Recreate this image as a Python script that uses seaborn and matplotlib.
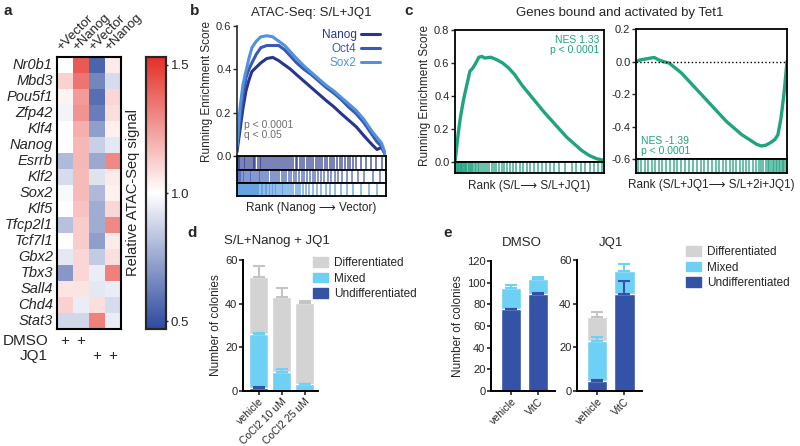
import numpy as np
import pandas as pd
import matplotlib
matplotlib.use("Agg")
import matplotlib.pyplot as plt
import seaborn as sns
from matplotlib.colors import LinearSegmentedColormap
from matplotlib.patches import Patch

# ---- panel a: heatmap ----
genes = ["Nr0b1", "Mbd3", "Pou5f1", "Zfp42", "Klf4", "Nanog", "Esrrb", "Klf2", "Sox2",
         "Klf5", "Tfcp2l1", "Tcf7l1", "Gbx2", "Tbx3", "Sall4", "Chd4", "Stat3"]
col_labels = ["+Vector", "+Nanog", "+Vector", "+Nanog"]
dmso_vector = [1.0, 1.12, 1.03, 0.97, 1.0, 1.0, 0.8, 0.9, 0.98, 1.0, 0.82, 1.0, 0.93, 0.7, 1.07, 1.12, 0.88]
dmso_nanog = [1.42, 1.35, 1.25, 1.27, 1.2, 1.18, 1.18, 1.17, 1.17, 1.15, 1.13, 1.13, 1.1, 1.1, 1.07, 0.95, 0.88]
jq1_vector = [0.55, 0.65, 0.58, 0.62, 0.72, 0.86, 0.75, 0.92, 0.8, 0.76, 0.76, 0.72, 0.85, 0.95, 0.93, 1.08, 1.32]
jq1_nanog = [1.05, 0.9, 1.1, 1.08, 1.04, 0.93, 1.3, 1.05, 1.04, 1.1, 1.3, 1.05, 1.08, 1.32, 0.95, 0.9, 0.95]

# ---- panel b: GSEA curves ----
b_rank = [0, 2, 4, 6, 8, 10, 13, 16, 20, 24, 28, 32, 36, 40, 45, 50, 55, 60, 65, 70, 75, 80, 85, 88, 91, 94, 97, 100]
b_nanog = [0.02, 0.12, 0.22, 0.30, 0.35, 0.39, 0.41, 0.43, 0.45, 0.455, 0.44, 0.42, 0.40, 0.375, 0.345, 0.315,
           0.285, 0.255, 0.227, 0.195, 0.165, 0.135, 0.095, 0.072, 0.05, 0.03, 0.04, 0.0]
b_oct4 = [0.03, 0.17, 0.28, 0.36, 0.40, 0.43, 0.47, 0.50, 0.51, 0.51, 0.51, 0.49, 0.46, 0.43, 0.40, 0.375,
          0.345, 0.315, 0.29, 0.26, 0.225, 0.195, 0.155, 0.125, 0.095, 0.065, 0.045, 0.0]
b_sox2 = [0.05, 0.22, 0.33, 0.39, 0.45, 0.50, 0.53, 0.55, 0.555, 0.55, 0.53, 0.51, 0.48, 0.45, 0.415, 0.385,
          0.355, 0.325, 0.30, 0.27, 0.24, 0.21, 0.17, 0.14, 0.11, 0.085, 0.06, 0.0]
b_nanog_hits = [0.5, 1.5, 2.3, 3.4, 4.6, 5.5, 6.8, 8, 9.1, 10.5, 11.6, 12.4, 13.8, 15.2, 16.1, 17.5, 19, 20.2,
                21.7, 23, 24.4, 25.3, 26.8, 28.1, 29.6, 31, 32.2, 33.5, 35, 36.3, 37.9, 39.4, 40.6, 42, 43.7,
                45.1, 46.8, 48, 49.5, 51.2, 52.9, 54.1, 55.8, 57.3, 59, 60.6, 62.2, 63.9, 65.3, 67, 68.8, 70.4,
                72.5, 74.3, 76.1, 78, 80.2, 83, 86.5, 90, 93.5, 97]
b_oct4_hits = [0.4, 1.3, 2.1, 3, 4.1, 5, 6.2, 7.3, 8.5, 9.6, 10.8, 12, 13.1, 14.5, 15.6, 17, 18.4, 19.7, 21,
               22.6, 24, 25.5, 27, 28.4, 30.1, 31.6, 33.2, 34.8, 36.5, 38.1, 39.9, 41.6, 43.4, 45.2, 47,
               48.9, 50.7, 52.6, 54.5, 56.6, 58.7, 61, 63.2, 65.5, 68, 70.6, 73.5, 77, 81, 85.5, 91, 96]
b_sox2_hits = [0.3, 0.9, 1.5, 2.1, 2.7, 3.3, 4, 4.6, 5.2, 5.9, 6.5, 7.2, 7.8, 8.5, 9.2, 9.9, 10.6, 11.3, 12,
               12.8, 13.6, 14.3, 15.1, 15.9, 16.8, 17.6, 18.5, 19.4, 20.3, 21.2, 22.2, 23.2, 24.2, 25.3,
               26.4, 27.5, 28.7, 29.9, 31.1, 32.4, 33.7, 35, 36.4, 37.8, 39.3, 40.8, 42.4, 44, 46.2, 48.5,
               51, 53.8, 56.5, 59.5, 62.5, 66, 69.5, 73.5, 78, 83, 88.5, 94]

# ---- panel c: Tet1 GSEA ----
c1_rank = [0, 1, 2, 3, 4, 5, 6, 8, 10, 12, 14, 16, 18, 20, 24, 28, 32, 36, 40, 45, 50, 55, 60, 65, 70, 75,
           80, 85, 90, 95, 100]
c1_es = [0.0, 0.08, 0.16, 0.23, 0.29, 0.34, 0.39, 0.47, 0.55, 0.57, 0.60, 0.635, 0.64, 0.63, 0.635, 0.62,
         0.60, 0.57, 0.53, 0.465, 0.41, 0.355, 0.30, 0.25, 0.20, 0.15, 0.11, 0.07, 0.04, 0.02, 0.01]
c2_rank = [0, 3, 6, 9, 12, 15, 18, 22, 26, 30, 35, 40, 45, 50, 55, 60, 65, 70, 75, 80, 83, 86, 89, 92, 94,
           96, 98, 100]
c2_es = [0.0, 0.01, 0.015, 0.02, 0.025, 0.01, 0.0, -0.01, -0.04, -0.07, -0.12, -0.17, -0.22, -0.27, -0.32,
         -0.37, -0.41, -0.45, -0.48, -0.51, -0.52, -0.515, -0.50, -0.48, -0.45, -0.35, -0.2, 0.0]
c1_hits = [0.3, 0.8, 1.3, 1.8, 2.3, 2.8, 3.3, 3.8, 4.3, 4.8, 5.3, 5.9, 6.5, 7.1, 7.7, 8.4, 9.1, 9.8, 10.6,
           11.4, 12.3, 13.2, 14.2, 15.3, 16.4, 17.6, 18.9, 20.3, 21.6, 23, 24.5, 26.1, 27.8, 29.5, 31.3,
           33.1, 35, 37, 39.1, 41.2, 43.4, 45.7, 48, 50.4, 52.9, 55.5, 58.2, 61, 63.8, 66.7, 69.8, 73.5,
           78.5, 81.5, 84.5, 87.4, 90.3, 93.2, 96.1, 98.8]
c2_hits = [1.2, 3.5, 5.8, 8.2, 10.5, 12.9, 15.4, 17.2, 19.8, 22.3, 24.9, 27.4, 30, 32.6, 35.1, 37.7, 40.2,
           42.8, 45.3, 47.9, 50.4, 53, 55.2, 57.5, 59.8, 62, 64.3, 66.5, 68.7, 70.9, 73, 75.1, 77.2, 79.3,
           81.2, 82.9, 84.4, 85.8, 87.1, 88.3, 89.5, 90.6, 91.7, 92.7, 93.7, 94.6, 95.5, 96.4, 97.3, 98.2,
           99.1]

# ---- panel d / e: colony counts ----
d_cats = ["vehicle", "CoCl2 10 uM", "CoCl2 25 uM"]
d_undiff = [1.2, 0.0, 0.0]
d_mixed = [24.7, 8.7, 3.0]
d_diff = [26.2, 34.2, 37.1]
d_undiff_err = [0.5, 0.0, 0.0]
d_mixed_err = [0.5, 1.4, 0.3]
d_diff_err = [5.3, 4.1, 1.0]

e_cats = ["vehicle", "VitC"]
dmso_undiff = [75.4, 89.2]
dmso_mixed = [19.3, 14.4]
dmso_diff = [0.0, 0.0]
dmso_undiff_err = [0.5, 1.5]
dmso_mixed_err = [2.8, 1.2]
dmso_diff_err = [0.0, 0.0]
jq1_undiff = [4.6, 44.4]
jq1_mixed = [18.2, 10.4]
jq1_diff = [11.2, 0.0]
jq1_undiff_err = [0.6, 6.1]
jq1_mixed_err = [1.8, 3.2]
jq1_diff_err = [2.3, 0.0]

sns.set_theme(style="ticks")
plt.rcParams["font.family"] = ["Liberation Sans", "DejaVu Sans"]
plt.rcParams["axes.linewidth"] = 1.2

W, H = 800, 446
fig = plt.figure(figsize=(8, 4.46), dpi=100)


def fax(x0, y0, x1, y1):
    return fig.add_axes([x0 / W, 1 - y1 / H, (x1 - x0) / W, (y1 - y0) / H])


def ftxt(x, y, s, **kw):
    fig.text(x / W, 1 - y / H, s, **kw)


# panel a
cmap = LinearSegmentedColormap.from_list("bwr_atac", ["#2c4a9e", "#ffffff", "#e42f28"])
heat = pd.DataFrame({"c1": dmso_vector, "c2": dmso_nanog, "c3": jq1_vector, "c4": jq1_nanog}, index=genes)
ax_a = fax(57, 57, 121, 329)
ax_cb = fax(146, 57, 166, 329)
sns.heatmap(heat, ax=ax_a, cmap=cmap, vmin=0.47, vmax=1.53, cbar_ax=ax_cb, xticklabels=False,
            yticklabels=genes)
ax_a.tick_params(axis="y", length=0, labelsize=10.5, pad=3)
for t in ax_a.get_yticklabels():
    t.set_style("italic")
    t.set_rotation(0)
for s in ax_a.spines.values():
    s.set_visible(True)
    s.set_linewidth(1.5)
    s.set_color("black")
for j, lab in enumerate(col_labels):
    ax_a.text(j + 0.4, -0.25, lab, rotation=45, ha="left", va="bottom", rotation_mode="anchor",
              fontsize=9.5)
ax_cb.set_yticks([0.5, 1.0, 1.5])
ax_cb.set_yticklabels(["0.5", "1.0", "1.5"])
ax_cb.tick_params(labelsize=9.5, length=3, direction="inout", width=1, pad=2)
ax_cb.set_ylabel("Relative ATAC-Seq signal", fontsize=10.5, labelpad=4)
ax_cb.yaxis.set_label_position("left")
for s in ax_cb.spines.values():
    s.set_visible(True)
    s.set_linewidth(1.5)
ftxt(48, 341, "DMSO", ha="right", va="center", fontsize=11)
ftxt(48, 356, "JQ1", ha="right", va="center", fontsize=11)
for xx in [65, 81]:
    ftxt(xx, 341, "+", ha="center", va="center", fontsize=11)
for xx in [97, 113]:
    ftxt(xx, 356, "+", ha="center", va="center", fontsize=11)

# panel b
blue_cols = {"Nanog": "#27368c", "Oct4": "#3b58b2", "Sox2": "#4e93dc"}
ax_b = fax(237, 26, 386, 156)
for name, vals in [("Nanog", b_nanog), ("Oct4", b_oct4), ("Sox2", b_sox2)]:
    sns.lineplot(x=b_rank, y=vals, ax=ax_b, color=blue_cols[name], lw=2.2, label=name)
ax_b.set_xlim(0, 100)
ax_b.set_ylim(0, 0.6)
ax_b.set_yticks([0.0, 0.2, 0.4, 0.6])
ax_b.set_yticklabels(["0.0", "0.2", "0.4", "0.6"])
ax_b.set_xticks([])
ax_b.tick_params(axis="y", labelsize=8, length=3, width=1, pad=1)
ax_b.set_ylabel("Running Enrichment Score", fontsize=8.5, labelpad=2)
sns.despine(ax=ax_b, bottom=True)
ax_b.legend(loc="upper right", frameon=False, markerfirst=False, labelcolor="linecolor", fontsize=8.5,
            handlelength=1.6, handletextpad=0.4, labelspacing=0.15, borderaxespad=0.1,
            bbox_to_anchor=(1.0, 1.02))
ax_b.text(5, 0.075, "p < 0.0001\nq < 0.05", fontsize=7.5, color="#6e6e6e", ha="left", va="bottom",
          linespacing=1.0)
for (y0, y1), hits, col in [((156, 170), b_nanog_hits, blue_cols["Nanog"]),
                            ((170, 183), b_oct4_hits, blue_cols["Oct4"]),
                            ((183, 196), b_sox2_hits, blue_cols["Sox2"])]:
    r = fax(237, y0, 386, y1)
    r.vlines(hits, 0, 1, color=col, lw=1.1, alpha=0.8)
    r.set_xlim(0, 100)
    r.set_ylim(0, 1)
    r.set_xticks([])
    r.set_yticks([])
    for s in r.spines.values():
        s.set_linewidth(1.3)
        s.set_color("black")
ftxt(311, 208, "Rank (Nanog \u27f6 Vector)", ha="center", va="center", fontsize=8.5)
ftxt(311, 13, "ATAC-Seq: S/L+JQ1", ha="center", va="center", fontsize=9.5)

# panel c
green = "#1ea47f"
ax_c1 = fax(455, 30, 604, 162)
sns.lineplot(x=c1_rank, y=c1_es, ax=ax_c1, color=green, lw=2.4)
ax_c1.set_xlim(0, 100)
ax_c1.set_ylim(0, 0.8)
ax_c1.set_yticks([0.0, 0.2, 0.4, 0.6, 0.8])
ax_c1.set_yticklabels(["0.0", "0.2", "0.4", "0.6", "0.8"])
ax_c1.set_ylabel("Running Enrichment Score", fontsize=8.5, labelpad=2)
ax_c1.text(97, 0.77, "NES 1.33\np < 0.0001", color=green, fontsize=7.5, ha="right", va="top",
           linespacing=1.0)
ax_c2 = fax(636, 29, 787, 159)
sns.lineplot(x=c2_rank, y=c2_es, ax=ax_c2, color=green, lw=2.4)
ax_c2.axhline(0, color="black", ls=":", lw=1)
ax_c2.set_xlim(0, 100)
ax_c2.set_ylim(-0.6, 0.2)
ax_c2.set_yticks([-0.6, -0.4, -0.2, 0.0, 0.2])
ax_c2.set_yticklabels(["-0.6", "-0.4", "-0.2", "0.0", "0.2"])
ax_c2.text(3, -0.58, "NES -1.39\np < 0.0001", color=green, fontsize=7.5, ha="left", va="bottom",
           linespacing=1.0)
for ax in [ax_c1, ax_c2]:
    ax.set_xticks([])
    ax.tick_params(axis="y", labelsize=8, length=3, width=1, pad=1)
    for s in ax.spines.values():
        s.set_linewidth(1.3)
        s.set_color("black")
for (x0, y0, x1, y1), hits in [((455, 162, 604, 173), c1_hits), ((636, 159, 787, 173), c2_hits)]:
    r = fax(x0, y0, x1, y1)
    r.vlines(hits, 0, 1, color=green, lw=1.2, alpha=0.8)
    r.set_xlim(0, 100)
    r.set_ylim(0, 1)
    r.set_xticks([])
    r.set_yticks([])
    for s in r.spines.values():
        s.set_linewidth(1.3)
        s.set_color("black")
ftxt(529, 186, "Rank (S/L\u27f6 S/L+JQ1)", ha="center", va="center", fontsize=8.5)
ftxt(711, 185, "Rank (S/L+JQ1\u27f6 S/L+2i+JQ1)", ha="center", va="center", fontsize=8.5)
ftxt(620, 13, "Genes bound and activated by Tet1", ha="center", va="center", fontsize=9.5)

# panels d / e: stacked bars
c_undiff, c_mixed, c_diff = "#3553a6", "#6fd0f5", "#d3d3d3"


def stacked(ax, cats, und, mix, dif, und_e, mix_e, dif_e, width):
    und = np.array(und)
    mid = und + np.array(mix)
    top = mid + np.array(dif)
    sns.barplot(x=cats, y=top, ax=ax, color=c_diff, saturation=1, width=width, errorbar=None)
    sns.barplot(x=cats, y=mid, ax=ax, color=c_mixed, saturation=1, width=width, errorbar=None)
    sns.barplot(x=cats, y=und, ax=ax, color=c_undiff, saturation=1, width=width, errorbar=None)
    xs = np.arange(len(cats))
    for vals, errs, col in [(top, dif_e, "#c4c4c4"), (mid, mix_e, c_mixed), (und, und_e, c_undiff)]:
        errs = np.array(errs)
        keep = errs > 0
        if keep.any():
            ax.errorbar(xs[keep], vals[keep], yerr=[np.zeros(keep.sum()), errs[keep]], fmt="none",
                        ecolor=col, elinewidth=1.5, capsize=4, capthick=1.5, zorder=5)
    ax.set_xlabel("")
    ax.tick_params(axis="x", labelsize=7.5, length=3, width=1.2, pad=1)
    ax.tick_params(axis="y", labelsize=8, length=3, width=1.2, pad=1)
    plt.setp(ax.get_xticklabels(), rotation=45, ha="right", rotation_mode="anchor")
    sns.despine(ax=ax)
    for s in ["left", "bottom"]:
        ax.spines[s].set_linewidth(1.4)
        ax.spines[s].set_color("black")


ax_d = fax(243, 260, 318, 391)
stacked(ax_d, d_cats, d_undiff, d_mixed, d_diff, d_undiff_err, d_mixed_err, d_diff_err, 0.82)
ax_d.set_xlim(-0.68, 2.58)
ax_d.set_ylim(0, 60)
ax_d.set_yticks([0, 20, 40, 60])
ax_d.set_ylabel("Number of colonies", fontsize=8.5, labelpad=2)
ftxt(277, 241, "S/L+Nanog + JQ1", ha="center", va="center", fontsize=9.5)

ax_e1 = fax(491, 261, 555, 391)
stacked(ax_e1, e_cats, dmso_undiff, dmso_mixed, dmso_diff, dmso_undiff_err, dmso_mixed_err, dmso_diff_err,
        0.75)
ax_e1.set_xlim(-0.75, 1.65)
ax_e1.set_ylim(0, 120)
ax_e1.set_yticks([0, 20, 40, 60, 80, 100, 120])
ax_e1.set_ylabel("Number of colonies", fontsize=8.5, labelpad=2)

ax_e2 = fax(577, 260, 642, 391)
stacked(ax_e2, e_cats, jq1_undiff, jq1_mixed, jq1_diff, jq1_undiff_err, jq1_mixed_err, jq1_diff_err, 0.75)
ax_e2.set_xlim(-0.75, 1.65)
ax_e2.set_ylim(0, 60)
ax_e2.set_yticks([0, 20, 40, 60])
ftxt(522, 243, "DMSO", ha="center", va="center", fontsize=9.5)
ftxt(611, 243, "JQ1", ha="center", va="center", fontsize=9.5)

handles = [Patch(color=c_diff, label="Differentiated"), Patch(color=c_mixed, label="Mixed"),
           Patch(color=c_undiff, label="Undifferentiated")]
for bx, by in [(313, 257), (686, 246)]:
    fig.legend(handles=handles, loc="upper left", bbox_to_anchor=(bx / W, 1 - by / H), frameon=False,
               fontsize=8.5, handlelength=1.3, handleheight=0.9, handletextpad=0.5, labelspacing=0.3,
               borderaxespad=0, borderpad=0)

# panel letters
for x, y, lab in [(3, 11, "a"), (190, 11, "b"), (404, 11, "c"), (187, 233, "d"), (443, 233, "e")]:
    ftxt(x, y, lab, fontsize=11, fontweight="bold", ha="left", va="center")

fig.savefig("out.png", dpi=100)
